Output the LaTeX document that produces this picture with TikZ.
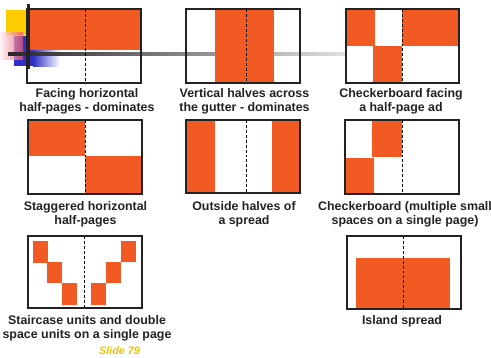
\documentclass[tikz,border=0pt]{standalone}
\usepackage{fontspec}
\setmainfont{Liberation Sans}
\usepackage{xcolor}
\definecolor{adorange}{HTML}{F15A22}
\definecolor{adink}{HTML}{222222}
\definecolor{adgold}{HTML}{F2C200}
\definecolor{decoyellow}{HTML}{FFCC00}
\definecolor{decopink}{HTML}{E8506A}
\definecolor{decoblue}{HTML}{3030C8}
\tikzset{
  spread/.style={draw=adink, line width=0.9pt},
  ad/.style={fill=adorange},
  gutter/.style={draw=black, line width=0.75pt, dash pattern=on 2.2pt off 1.5pt},
  caption/.style={text=adink, font=\fontsize{9.3}{10.4}\selectfont\bfseries, align=center}
}

\begin{document}
\begin{tikzpicture}[x=0.75pt, y=-0.75pt]
    \useasboundingbox (0,0) rectangle (491,357);
    % slide decoration
    \fill[decoyellow] (6,10) rectangle (27,35);
    \fill[decoblue] (14,36) rectangle (33,66);
    \shade[left color=decoblue, right color=white] (33,36) rectangle (60,66);
    \shade[left color=decopink!10, right color=decopink, opacity=0.75] (0,32) rectangle (23,59);
    \shade[left color=black!85, right color=black!12] (8,52.3) rectangle (345,55);
    % ads
    \fill[ad] (27,9) rectangle (141,50);
    \fill[ad] (215,9) rectangle (274,83);
    \fill[ad] (346,9) rectangle (375,46);
    \fill[ad] (402,9) rectangle (459,46);
    \fill[ad] (373,46) rectangle (402,83);
    \fill[ad] (28,120) rectangle (85,156);
    \fill[ad] (85,156) rectangle (142,194);
    \fill[ad] (186,120) rectangle (215,193);
    \fill[ad] (272,120) rectangle (300,193);
    \fill[ad] (372,120) rectangle (402,157);
    \fill[ad] (345,158) rectangle (374,194);
    \fill[ad] (33,241) rectangle (48,263);
    \fill[ad] (47,262) rectangle (62,283);
    \fill[ad] (62,283) rectangle (77,305);
    \fill[ad] (91,283) rectangle (106,305);
    \fill[ad] (106,262) rectangle (121,283);
    \fill[ad] (121,241) rectangle (136,262);
    \fill[ad] (356,258) rectangle (450,309);
    % spreads and gutters
    \draw[spread] (27,9) rectangle (141,83);
    \draw[gutter] (85.5,9) -- (85.5,83);
    \draw[spread] (186,9) rectangle (300,83);
    \draw[gutter] (246,9) -- (246,83);
    \draw[spread] (346,9) rectangle (459,83);
    \draw[gutter] (402,9) -- (402,83);
    \draw[spread] (28,120) rectangle (142,194);
    \draw[gutter] (85,120) -- (85,194);
    \draw[spread] (186,120) rectangle (300,193);
    \draw[gutter] (246,120) -- (246,193);
    \draw[spread] (345,120) rectangle (459,194);
    \draw[gutter] (402,120) -- (402,194);
    \draw[spread] (28,236) rectangle (142,308);
    \draw[gutter] (84.7,236) -- (84.7,308);
    \draw[spread] (347,236) rectangle (461,309);
    \draw[gutter] (403,236) -- (403,309);
    \draw[adink, line width=2pt] (28.7,4) -- (28.7,69);
    % captions
    \node[caption] (facing) at (87,101) {Facing horizontal\\half-pages - dominates};
    \node[caption] (vertical) at (244.5,101) {Vertical halves across\\the gutter - dominates};
    \node[caption] (checkad) at (401,101) {Checkerboard facing\\a half-page ad};
    \node[caption] (staggered) at (85.5,214.7) {Staggered horizontal\\half-pages};
    \node[caption] (outside) at (244,214.7) {Outside halves of\\a spread};
    \node[caption] (checksmall) at (405,214.7) {Checkerboard (multiple small\\spaces on a single page)};
    \node[caption] (staircase) at (87,328.3) {Staircase units and double\\space units on a single page};
    \node[caption] (island) at (402,321) {Island spread};
    \node[text=adgold, font=\fontsize{8.1}{9}\selectfont\bfseries\itshape] (slide) at (119.5,351) {Slide 79};
\end{tikzpicture}
\end{document}
